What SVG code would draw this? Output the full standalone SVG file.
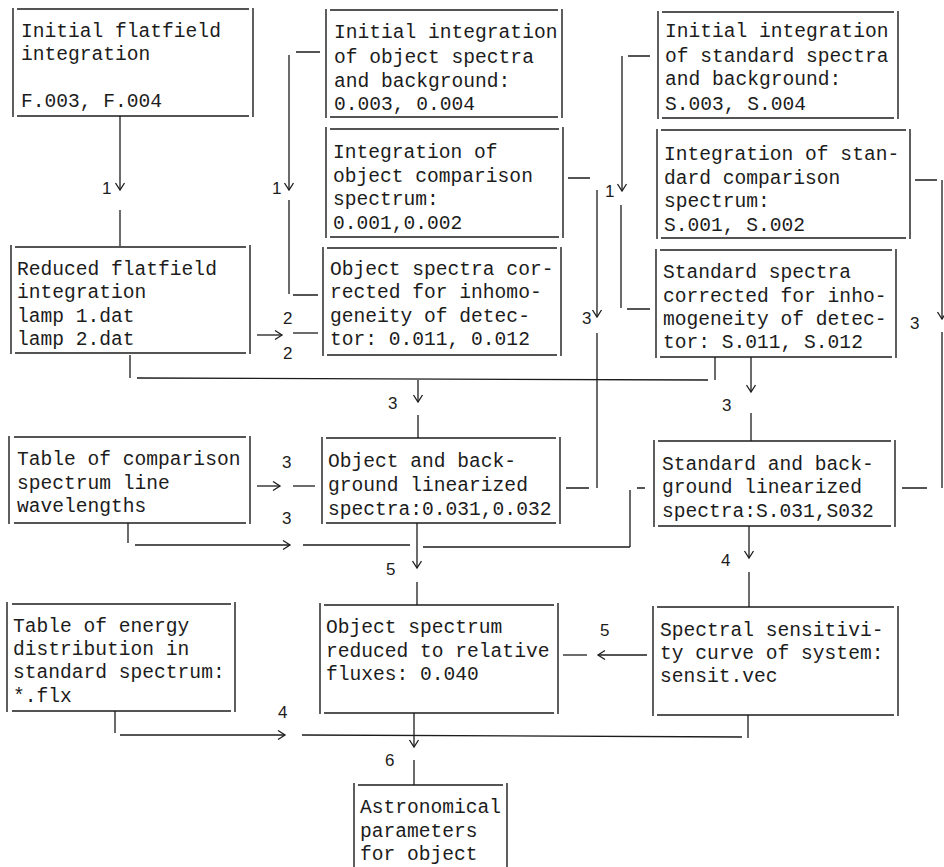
<svg xmlns="http://www.w3.org/2000/svg" width="944" height="867" viewBox="0 0 944 867">
<style>
.box{fill:none;stroke:#1c1c1c;stroke-width:1.4}
.c{fill:none;stroke:#1c1c1c;stroke-width:1.3}
.t{font-family:"Liberation Mono","DejaVu Sans Mono",monospace;font-size:19.6px;fill:#1c1c1c}
.n{font-family:"Liberation Sans",Arial,sans-serif;font-size:17px;fill:#1c1c1c}
</style>
<defs>
<marker id="ah" viewBox="-9 -6 11 12" refX="0" refY="0" markerWidth="11" markerHeight="12" markerUnits="userSpaceOnUse" orient="auto">
<path d="M-7,-4.5 L0,0 L-7,4.5" fill="none" stroke="#1c1c1c" stroke-width="1.3"/>
</marker>
</defs>
<rect width="944" height="867" fill="#ffffff"/>

<g id="flatfield-initial">
<path class="box" d="M13,8V117M253,8V117M17,9H249M17,116H249"/>
<text class="t" x="21" y="37">Initial flatfield</text>
<text class="t" x="21" y="60">integration</text>
<text class="t" x="21" y="107">F.003, F.004</text>
</g>
<g id="flatfield-reduced">
<path class="box" d="M11,245V354M250,245V354M15,247H246M15,353H246"/>
<text class="t" x="17" y="275">Reduced flatfield</text>
<text class="t" x="17" y="298">integration</text>
<text class="t" x="17" y="322">lamp 1.dat</text>
<text class="t" x="17" y="345">lamp 2.dat</text>
</g>
<g id="table-comparison">
<path class="box" d="M9,436V524M250,436V524M14,437H246M14,523H246"/>
<text class="t" x="17" y="465">Table of comparison</text>
<text class="t" x="17" y="489">spectrum line</text>
<text class="t" x="17" y="512">wavelengths</text>
</g>
<g id="table-energy">
<path class="box" d="M7,602V712M235,602V712M12,604H231M12,711H231"/>
<text class="t" x="13" y="632">Table of energy</text>
<text class="t" x="13" y="655">distribution in</text>
<text class="t" x="13" y="678">standard spectrum:</text>
<text class="t" x="13" y="702">*.flx</text>
</g>
<g id="object-initial">
<path class="box" d="M326,9V118M562,9V118M330,10H558M330,117H558"/>
<text class="t" x="334" y="38">Initial integration</text>
<text class="t" x="334" y="63">of object spectra</text>
<text class="t" x="334" y="87">and background:</text>
<text class="t" x="334" y="110">0.003, 0.004</text>
</g>
<g id="object-comparison">
<path class="box" d="M326,127V238M563,127V238M330,129H559M330,237H559"/>
<text class="t" x="333" y="158">Integration of</text>
<text class="t" x="333" y="182">object comparison</text>
<text class="t" x="333" y="205">spectrum:</text>
<text class="t" x="333" y="229">0.001,0.002</text>
</g>
<g id="object-corrected">
<path class="box" d="M323,247V356M561,247V356M327,248H557M327,355H557"/>
<text class="t" x="330" y="275">Object spectra cor-</text>
<text class="t" x="330" y="298">rected for inhomo-</text>
<text class="t" x="330" y="322">geneity of detec-</text>
<text class="t" x="330" y="345">tor: 0.011, 0.012</text>
</g>
<g id="object-linearized">
<path class="box" d="M322,437V524M560,437V524M326,438H556M326,523H556"/>
<text class="t" x="328" y="467">Object and back-</text>
<text class="t" x="328" y="491">ground linearized</text>
<text class="t" x="328" y="515">spectra:0.031,0.032</text>
</g>
<g id="object-relative">
<path class="box" d="M320,603V714M558,603V714M324,605H554M324,713H554"/>
<text class="t" x="326" y="633">Object spectrum</text>
<text class="t" x="326" y="657">reduced to relative</text>
<text class="t" x="326" y="680">fluxes: 0.040</text>
</g>
<g id="astronomical">
<path class="box" d="M354,783V867M507,783V867M358,785H503"/>
<text class="t" x="360" y="813">Astronomical</text>
<text class="t" x="360" y="837">parameters</text>
<text class="t" x="360" y="860">for object</text>
</g>
<g id="standard-initial">
<path class="box" d="M658,11V119M898,11V119M662,12H894M662,118H894"/>
<text class="t" x="665" y="37">Initial integration</text>
<text class="t" x="665" y="62">of standard spectra</text>
<text class="t" x="665" y="85">and background:</text>
<text class="t" x="665" y="110">S.003, S.004</text>
</g>
<g id="standard-comparison">
<path class="box" d="M657,129V239M910,129V239M661,130H906M661,238H906"/>
<text class="t" x="664" y="160">Integration of stan-</text>
<text class="t" x="664" y="184">dard comparison</text>
<text class="t" x="664" y="207">spectrum:</text>
<text class="t" x="664" y="231">S.001, S.002</text>
</g>
<g id="standard-corrected">
<path class="box" d="M656,249V358M896,249V358M660,250H892M660,357H892"/>
<text class="t" x="663" y="278">Standard spectra</text>
<text class="t" x="663" y="302">corrected for inho-</text>
<text class="t" x="663" y="325">mogeneity of detec-</text>
<text class="t" x="663" y="348">tor: S.011, S.012</text>
</g>
<g id="standard-linearized">
<path class="box" d="M654,440V527M895,440V527M658,441H891M658,526H891"/>
<text class="t" x="662" y="470">Standard and back-</text>
<text class="t" x="662" y="493">ground linearized</text>
<text class="t" x="662" y="517">spectra:S.031,S032</text>
</g>
<g id="sensitivity">
<path class="box" d="M653,606V716M898,606V716M657,607H894M657,715H894"/>
<text class="t" x="660" y="636">Spectral sensitivi-</text>
<text class="t" x="660" y="659">ty curve of system:</text>
<text class="t" x="660" y="682">sensit.vec</text>
</g>

<g id="connectors">
<path class="c" d="M120,116V190" marker-end="url(#ah)"/>
<path class="c" d="M120,210V246"/>
<path class="c" d="M296,52H320M289,200V294M293,295H318"/>
<path class="c" d="M289,55V190" marker-end="url(#ah)"/>
<path class="c" d="M628,56H650M621,205V308M627,309H650"/>
<path class="c" d="M622,56V191" marker-end="url(#ah)"/>
<path class="c" d="M257,335H282" marker-end="url(#ah)"/>
<path class="c" d="M293,333H318"/>
<path class="c" d="M130,355V378M137,378L708,380M715,357V380M418,415V438"/>
<path class="c" d="M418,380V402" marker-end="url(#ah)"/>
<path class="c" d="M568,178H590M597,333V488M566,488H589"/>
<path class="c" d="M597,190V317" marker-end="url(#ah)"/>
<path class="c" d="M751,357V392" marker-end="url(#ah)"/>
<path class="c" d="M751,413V441"/>
<path class="c" d="M915,180H937M942,332V488M902,488H927"/>
<path class="c" d="M942,180V319" marker-end="url(#ah)"/>
<path class="c" d="M257,486H280" marker-end="url(#ah)"/>
<path class="c" d="M293,486H315"/>
<path class="c" d="M128,523V543M303,545H410M423,547H630M630,490V547M637,488H645"/>
<path class="c" d="M135,545H290" marker-end="url(#ah)"/>
<path class="c" d="M417,523V568" marker-end="url(#ah)"/>
<path class="c" d="M417,582V605"/>
<path class="c" d="M749,526V558" marker-end="url(#ah)"/>
<path class="c" d="M749,572V607"/>
<path class="c" d="M647,655H598" marker-end="url(#ah)"/>
<path class="c" d="M563,655H587"/>
<path class="c" d="M115,711V733M302,735L742,737M748,715V738"/>
<path class="c" d="M120,735H285" marker-end="url(#ah)"/>
<path class="c" d="M414,713V747" marker-end="url(#ah)"/>
<path class="c" d="M414,760V785"/>
</g>

<g id="labels">
<text class="n" x="102" y="194">1</text>
<text class="n" x="272" y="194">1</text>
<text class="n" x="605" y="197">1</text>
<text class="n" x="283" y="324">2</text>
<text class="n" x="283" y="359">2</text>
<text class="n" x="388" y="409">3</text>
<text class="n" x="582" y="324">3</text>
<text class="n" x="722" y="411">3</text>
<text class="n" x="910" y="329">3</text>
<text class="n" x="282" y="468">3</text>
<text class="n" x="282" y="524">3</text>
<text class="n" x="386" y="575">5</text>
<text class="n" x="721" y="566">4</text>
<text class="n" x="600" y="636">5</text>
<text class="n" x="278" y="718">4</text>
<text class="n" x="385" y="766">6</text>
</g>
</svg>
